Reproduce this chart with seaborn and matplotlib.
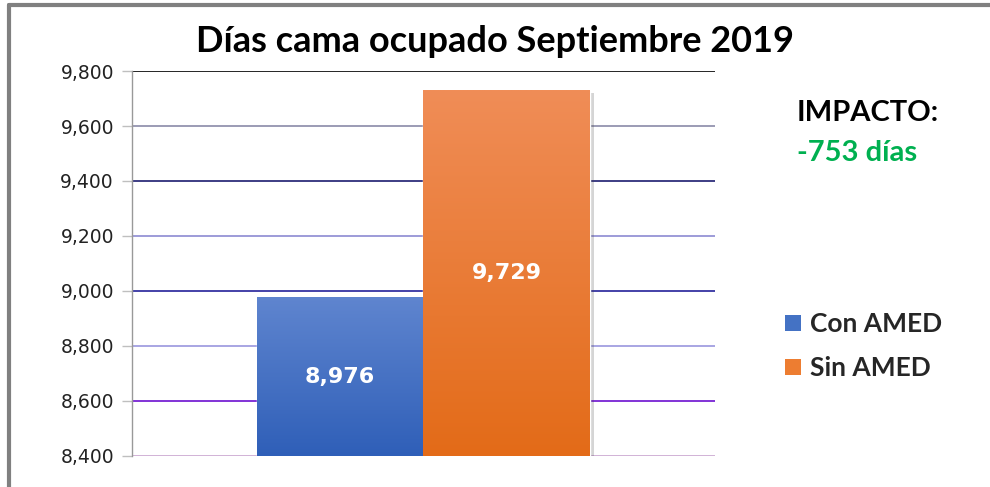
#!/usr/bin/env python3
"""Bar chart: bed days occupied, September 2019, with vs. without AMED."""

import matplotlib.pyplot as plt
import matplotlib.patheffects as pe
import numpy as np
import pandas as pd
import seaborn as sns
from matplotlib.colors import LinearSegmentedColormap
from matplotlib.lines import Line2D
from matplotlib.ticker import FuncFormatter

MONTH = ["Septiembre 2019", "Septiembre 2019"]
GROUPS = ["Con AMED", "Sin AMED"]
DAYS = [8976, 9729]
Y_TICKS = [8400, 8600, 8800, 9000, 9200, 9400, 9600, 9800]

TITLE = "Días cama ocupado Septiembre 2019"
IMPACT_LABEL = "IMPACTO:"
IMPACT_VALUE = "-753 días"

# gradient (top, bottom) per bar and the flat colour for legend squares
GRADIENTS = {"Con AMED": ("#5f85cf", "#2f5fb8"),
             "Sin AMED": ("#f08d57", "#e36b18")}
PALETTE = {"Con AMED": "#4472c4", "Sin AMED": "#ed7d31"}
GRID_COLORS = ["#c9a6d0", "#6c10d0", "#9a96de", "#24219a",
               "#8c8ad2", "#1c1c70", "#8a8aa8", "#000000"]

sns.set_theme(style="white")
plt.rcParams["font.family"] = ["Lato", "DejaVu Sans"]


def gradient_fill(ax, patch, top, bottom, floor):
    """Paint a vertical gradient over the visible part of `patch`."""
    x0, w = patch.get_x(), patch.get_width()
    y1 = patch.get_y() + patch.get_height()
    cmap = LinearSegmentedColormap.from_list("g", [bottom, top])
    grad = np.linspace(0, 1, 256).reshape(-1, 1)
    ax.imshow(grad, cmap=cmap, origin="lower", aspect="auto",
              extent=(x0, x0 + w, floor, y1), zorder=patch.get_zorder() + 0.1)


def main():
    df = pd.DataFrame({"month": MONTH, "group": GROUPS, "days": DAYS})

    fig = plt.figure(figsize=(9.9, 4.87), dpi=100)
    ax = fig.add_axes([0.1333, 0.0637, 0.5889, 0.7905])

    sns.barplot(data=df, x="month", y="days", hue="group", hue_order=GROUPS,
                palette=PALETTE, width=0.572, ax=ax, legend=False,
                saturation=1, zorder=3)

    # gradient bars with a soft shadow; labels sit in the visible middle
    for container, grp in zip(ax.containers, GROUPS):
        for patch in container:
            patch.set_path_effects([pe.SimplePatchShadow(offset=(3, -2),
                                    alpha=0.22, shadow_rgbFace="#444444"),
                                    pe.Normal()])
            gradient_fill(ax, patch, *GRADIENTS[grp], floor=Y_TICKS[0])
        ax.bar_label(container, labels=[f"{v:,.0f}" for v in container.datavalues],
                     label_type="center", color="white", fontsize=16,
                     fontweight="bold", family="DejaVu Sans", zorder=5)

    ax.set_ylim(Y_TICKS[0], Y_TICKS[-1])
    ax.set_xlim(-0.5, 0.5)
    ax.set_yticks(Y_TICKS)
    ax.yaxis.set_major_formatter(FuncFormatter(lambda v, _: f"{v:,.0f}"))
    ax.tick_params(axis="y", left=True, length=7, width=1, color="#bfbfbf",
                   labelsize=13.5, labelcolor="#222222", pad=6)
    ax.tick_params(axis="x", bottom=False, labelbottom=False)
    for lab in ax.get_yticklabels():
        lab.set_family("DejaVu Sans")
    ax.set(xlabel="", ylabel="")

    # gridlines, each in its own colour
    ax.yaxis.grid(True, linewidth=1.2)
    ax.set_axisbelow(True)
    for line, c in zip(ax.get_ygridlines(), GRID_COLORS):
        line.set_color(c)

    for side in ("top", "right", "bottom"):
        ax.spines[side].set_visible(False)
    ax.spines["left"].set_color("#999999")
    ax.spines["left"].set_linewidth(1)

    fig.text(0.5, 0.914, TITLE, fontsize=26, fontweight="bold",
             color="black", ha="center", va="center")

    fig.text(0.805, 0.768, IMPACT_LABEL, fontsize=21, fontweight="bold",
             color="black", va="center", ha="left")
    fig.text(0.805, 0.686, IMPACT_VALUE, fontsize=21, fontweight="bold",
             color="#00b050", va="center", ha="left")

    handles = [Line2D([], [], marker="s", linestyle="", markersize=11,
                      markerfacecolor=PALETTE[g], markeredgewidth=0)
               for g in GROUPS]
    fig.legend(handles, GROUPS, loc="center left",
               bbox_to_anchor=(0.768, 0.289), frameon=False,
               prop={"size": 19, "weight": "bold"}, labelspacing=0.75,
               handlelength=0.7, handletextpad=0.3)

    # grey frame around the chart area
    fig.add_artist(Line2D([0.009, 0.009], [0.0, 0.99], transform=fig.transFigure,
                          color="#808080", linewidth=3))
    fig.add_artist(Line2D([0.009, 1.0], [0.99, 0.99], transform=fig.transFigure,
                          color="#808080", linewidth=3))

    fig.savefig("out.png", dpi=100)


if __name__ == "__main__":
    main()
